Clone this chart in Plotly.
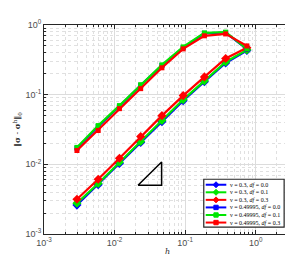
import plotly.graph_objects as go

h = [0.75, 0.375, 0.1875, 0.09375, 0.046875, 0.0234375, 0.01171875, 0.005859375, 0.0029296875]

# nu = 0.3 (lower set, diamonds)
err_03_df00 = [0.43, 0.285, 0.153, 0.082, 0.041, 0.0206, 0.0103, 0.0051, 0.0026]
err_03_df01 = [0.44, 0.295, 0.158, 0.085, 0.0425, 0.0213, 0.0107, 0.0053, 0.00277]
err_03_df03 = [0.47, 0.33, 0.18, 0.097, 0.05, 0.0251, 0.0122, 0.0061, 0.00316]
# nu = 0.49995 (upper set, squares)
err_49_df00 = [0.45, 0.78, 0.76, 0.475, 0.262, 0.136, 0.068, 0.035, 0.0171]
err_49_df01 = [0.454, 0.79, 0.77, 0.485, 0.268, 0.139, 0.0697, 0.036, 0.0175]
err_49_df03 = [0.50, 0.745, 0.70, 0.454, 0.243, 0.122, 0.063, 0.0306, 0.0158]

series = [
    ("ν = 0.3, <i>df</i> = 0.0", err_03_df00, "#0000ff", "diamond", 7),
    ("ν = 0.3, <i>df</i> = 0.1", err_03_df01, "#00e600", "diamond", 7),
    ("ν = 0.3, <i>df</i> = 0.3", err_03_df03, "#ff0000", "diamond", 7),
    ("ν = 0.49995, <i>df</i> = 0.0", err_49_df00, "#0000ff", "square", 5),
    ("ν = 0.49995, <i>df</i> = 0.1", err_49_df01, "#00e600", "square", 5),
    ("ν = 0.49995, <i>df</i> = 0.3", err_49_df03, "#ff0000", "square", 5),
]

tick_vals = [0.001, 0.01, 0.1, 1]
tick_text = ["10<sup>-3</sup>", "10<sup>-2</sup>", "10<sup>-1</sup>", "10<sup>0</sup>"]

# slope-1 reference triangle (data coordinates)
tri_h = [0.0215, 0.0464, 0.0464, 0.0215]
tri_e = [0.005, 0.005, 0.0108, 0.005]

W, H = 293, 255
ML, MR, MT, MB = 32, 9, 17, 28
PW, PH = W - ML - MR, H - MT - MB

def px(x):
    return (x - ML) / PW

def py(y):
    return (H - MB - y) / PH

fig = go.Figure()
for name, vals, col, sym, ms in series:
    fig.add_trace(go.Scatter(x=h, y=vals, mode="lines+markers", name=name,
                             line=dict(color=col, width=2.2),
                             marker=dict(symbol=sym, size=ms, color=col),
                             showlegend=False))

fig.add_trace(go.Scatter(x=tri_h, y=tri_e, mode="lines", line=dict(color="black", width=1.5),
                         showlegend=False, hoverinfo="skip"))

# manual compact legend
shapes = []
annots = []
lx0, lx1, ly0, ly1 = 195, 277, 172, 220
shapes.append(dict(type="rect", xref="paper", yref="paper", x0=px(lx0), x1=px(lx1),
                   y0=py(ly1), y1=py(ly0), line=dict(color="#262626", width=1.2),
                   fillcolor="white", layer="above"))
for i, (name, vals, col, sym, ms) in enumerate(series):
    yc = 177.5 + 7.6 * i
    shapes.append(dict(type="line", xref="paper", yref="paper", x0=px(197), x1=px(218),
                       y0=py(yc), y1=py(yc), line=dict(color=col, width=2), layer="above"))
    s = 2.2 if sym == "square" else 3.0
    if sym == "square":
        path = f"M{px(207.5-s)},{py(yc-s)} L{px(207.5+s)},{py(yc-s)} L{px(207.5+s)},{py(yc+s)} L{px(207.5-s)},{py(yc+s)} Z"
    else:
        path = f"M{px(207.5)},{py(yc-s)} L{px(207.5+s)},{py(yc)} L{px(207.5)},{py(yc+s)} L{px(207.5-s)},{py(yc)} Z"
    shapes.append(dict(type="path", xref="paper", yref="paper", path=path,
                       fillcolor=col, line=dict(color=col, width=1), layer="above"))
    annots.append(dict(text=name, xref="paper", yref="paper", x=px(219.5), y=py(yc),
                       xanchor="left", yanchor="middle", showarrow=False,
                       font=dict(family="Liberation Serif", size=6, color="black")))

axis_common = dict(type="log", showline=True, linecolor="#262626", linewidth=1, mirror="ticks",
                   ticks="inside", ticklen=4, tickcolor="#262626",
                   tickvals=tick_vals, ticktext=tick_text,
                   showgrid=True, gridcolor="#dcdcdc", gridwidth=1,
                   zeroline=False,
                   tickfont=dict(family="Liberation Sans", size=9, color="#4d4d4d"),
                   minor=dict(ticks="inside", ticklen=2, tickcolor="#262626", dtick="D1",
                              showgrid=True, gridcolor="#e0e0e0", griddash="dot", gridwidth=1))

fig.update_layout(
    width=W, height=H,
    margin=dict(l=ML, r=MR, t=MT, b=MB),
    paper_bgcolor="white", plot_bgcolor="white",
    shapes=shapes, annotations=annots,
    xaxis=dict(axis_common, range=[-3, 0.5],
               title=dict(text="<i>h</i>", standoff=1,
                          font=dict(family="DejaVu Serif", size=8, color="#262626"))),
    yaxis=dict(axis_common, range=[-3, 0],
               title=dict(text="‖<b>σ</b> - <b>σ</b><sup>h</sup>‖<sub>0</sub>", standoff=3,
                          font=dict(family="DejaVu Serif", size=8, color="#262626"))),
)

fig.write_html("out.html")
